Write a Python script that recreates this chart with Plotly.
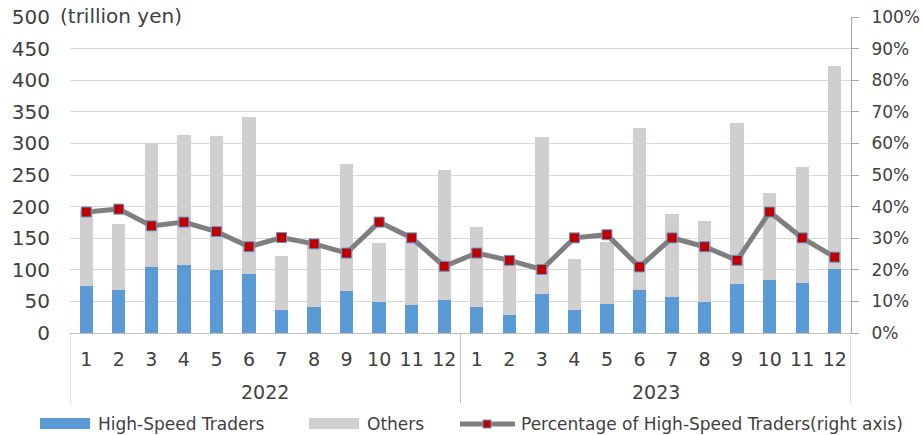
import plotly.graph_objects as go

years = ["2022"] * 12 + ["2023"] * 12
months = [str(m) for m in range(1, 13)] * 2

hst = [75, 68, 104, 108, 100, 94, 36, 41, 67, 49, 44, 53,
       41, 28, 61, 36, 46, 68, 57, 49, 77, 84, 79, 102]
total = [195, 173, 300, 313, 311, 342, 122, 142, 267, 143, 146, 258,
         167, 119, 310, 117, 144, 325, 188, 177, 332, 222, 262, 423]
others = [t - h for t, h in zip(total, hst)]
pct = [0.383, 0.392, 0.339, 0.351, 0.321, 0.273, 0.302, 0.282, 0.253, 0.351, 0.301, 0.211,
       0.253, 0.230, 0.201, 0.301, 0.311, 0.209, 0.301, 0.273, 0.230, 0.383, 0.301, 0.240]

BLUE = "#5B9BD5"
GREY = "#D0CECE"
LINE = "#7F7F7F"
RED = "#C00000"
TXT = "#404040"
AX = "#BFBFBF"
FONT = "DejaVu Sans"

keys = [f"{y}-{m}" for y, m in zip(years, months)]

fig = go.Figure()
fig.add_trace(go.Bar(x=keys, y=hst, name="High-Speed Traders", marker_color=BLUE, marker_line_width=0))
fig.add_trace(go.Bar(x=keys, y=others, name="Others", marker_color=GREY, marker_line_width=0))
fig.add_trace(go.Scatter(x=keys, y=pct, name="Percentage of High-Speed Traders(right axis)",
                         yaxis="y2", mode="lines+markers",
                         line=dict(color=LINE, width=5),
                         marker=dict(symbol="square", size=10, color=RED,
                                     line=dict(color=BLUE, width=1))))

W, H = 922, 435
L, R, T, B = 70, 71, 17, 102
pw = W - L - R
ph = H - T - B

def px(xp):  # page pixel -> paper x
    return (xp - L) / pw

def py(yp):  # page pixel -> paper y
    return (H - B - yp) / ph

fig.update_layout(
    width=W, height=H,
    margin=dict(l=L, r=R, t=T, b=B, autoexpand=False),
    barmode="stack", bargap=0.59,
    plot_bgcolor="white", paper_bgcolor="white",
    showlegend=False,
    font=dict(family=FONT, color=TXT),
    xaxis=dict(type="category", range=[-0.5, len(keys) - 0.5],
               showline=True, linecolor=AX, linewidth=1,
               tickmode="array", tickvals=keys, ticktext=months,
               ticks="outside", ticklen=9, tickcolor="rgba(0,0,0,0)",
               tickangle=0, automargin=False,
               tickfont=dict(size=19, color=TXT, family=FONT),
               showgrid=False),
    yaxis=dict(range=[0, 500], dtick=50, showgrid=True, gridcolor="#D9D9D9", gridwidth=1,
               zeroline=False, showline=False, ticks="", automargin=False,
               ticklabelstandoff=19,
               tickfont=dict(size=20, color=TXT, family=FONT)),
    yaxis2=dict(range=[0, 1], dtick=0.1, tickformat=".0%", overlaying="y", side="right",
                showgrid=False, zeroline=False, showline=True, linecolor="#A6A6A6", linewidth=1,
                ticks="outside", ticklen=7, tickcolor="#A6A6A6", automargin=False,
                ticklabelstandoff=9,
                tickfont=dict(size=17, color=TXT, family=FONT)),
)

# year group labels and dividers
uniq_years = list(dict.fromkeys(years))
start = 0
bounds = [-0.5]
for yr in uniq_years:
    n = years.count(yr)
    fig.add_annotation(text=yr, xref="x", yref="paper", x=start + (n - 1) / 2, y=py(392),
                       xanchor="center", yanchor="middle", showarrow=False,
                       font=dict(size=19, color=TXT, family=FONT))
    start += n
    bounds.append(start - 0.5)
for b in bounds:
    fig.add_shape(type="line", xref="x", yref="paper", x0=b, x1=b, y0=0, y1=py(403),
                  line=dict(color=AX, width=1))

fig.add_annotation(text="(trillion yen)", xref="paper", yref="paper",
                   x=px(58), y=py(16), xanchor="left", yanchor="middle", showarrow=False,
                   font=dict(size=20, color=TXT, family=FONT))

# manual legend
ly0, ly1 = py(429), py(418)
lyc = py(424)
fig.add_shape(type="rect", xref="paper", yref="paper", x0=px(40), x1=px(90), y0=ly0, y1=ly1,
              fillcolor=BLUE, line_width=0)
fig.add_annotation(text="High-Speed Traders", xref="paper", yref="paper", x=px(96), y=lyc,
                   xanchor="left", yanchor="middle", showarrow=False,
                   font=dict(size=17, color=TXT, family=FONT))
fig.add_shape(type="rect", xref="paper", yref="paper", x0=px(309), x1=px(359), y0=ly0, y1=ly1,
              fillcolor=GREY, line_width=0)
fig.add_annotation(text="Others", xref="paper", yref="paper", x=px(365), y=lyc,
                   xanchor="left", yanchor="middle", showarrow=False,
                   font=dict(size=17, color=TXT, family=FONT))
fig.add_shape(type="line", xref="paper", yref="paper", x0=px(460), x1=px(515), y0=lyc, y1=lyc,
              line=dict(color=LINE, width=5))
fig.add_shape(type="rect", xref="paper", yref="paper", x0=px(483), x1=px(491), y0=py(428), y1=py(420),
              fillcolor=RED, line=dict(color=BLUE, width=1))
fig.add_annotation(text="Percentage of High-Speed Traders(right axis)", xref="paper", yref="paper",
                   x=px(519), y=lyc, xanchor="left", yanchor="middle", showarrow=False,
                   font=dict(size=17, color=TXT, family=FONT))

fig.write_html("out.html", config={"displayModeBar": False},
               post_script="document.body.style.margin='0';")
